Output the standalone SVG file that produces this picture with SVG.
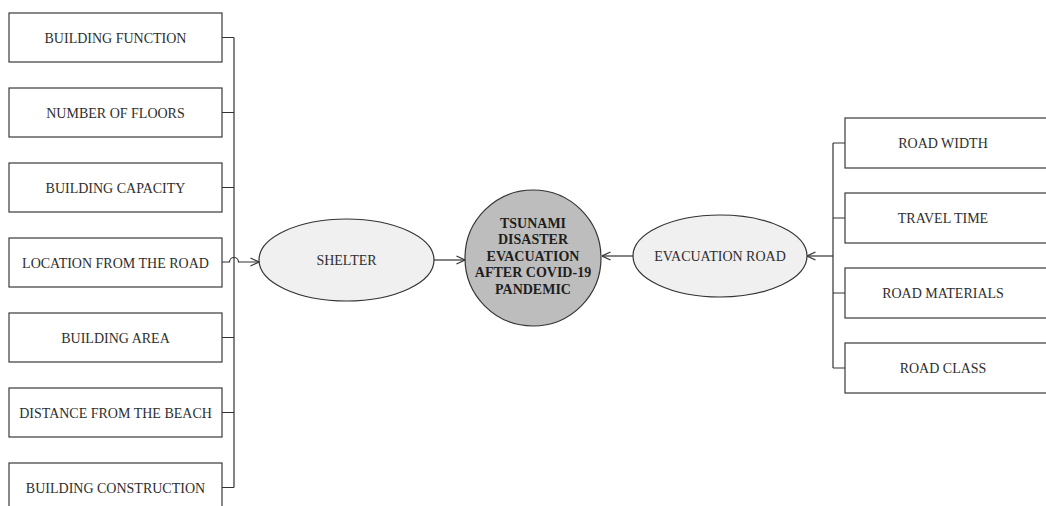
<svg xmlns="http://www.w3.org/2000/svg" width="1046" height="506" viewBox="0 0 1046 506">
<style>
.box{fill:#fff;stroke:#3a3a3a;stroke-width:1.2}
.lbl{font-family:"Liberation Serif","Times New Roman",serif;font-size:14px;fill:#2e2e2e;text-anchor:middle}
.ell{fill:#f0f0f0;stroke:#333;stroke-width:1.2}
.con{fill:none;stroke:#333;stroke-width:1.2}
.bold{font-family:"Liberation Serif","Times New Roman",serif;font-size:14px;font-weight:bold;fill:#1e1e1e;text-anchor:middle}
</style>
<defs>
<marker id="arr" viewBox="0 0 10 10" refX="9.5" refY="5" markerWidth="10" markerHeight="10" markerUnits="userSpaceOnUse" orient="auto">
<polyline points="1,1 9.5,5 1,9" fill="none" stroke="#333" stroke-width="1.2"/>
</marker>
</defs>
<rect width="1046" height="506" fill="#fff"/>
<g id="connectors">
<path class="con" d="M222,37.5 H234 M222,112.5 H234 M222,187.5 H234 M222,337.5 H234 M222,412.5 H234 M222,487.5 H234 M234,37.5 V487.5"/>
<path class="con" d="M222,262 H229.5 A4.5,4.5 0 0 1 238.5,262 H259" marker-end="url(#arr)"/>
<path class="con" d="M434,260 H465" marker-end="url(#arr)"/>
<path class="con" d="M633,256 H602" marker-end="url(#arr)"/>
<path class="con" d="M833,143 V368 M833,143 H845 M833,218 H845 M833,293 H845 M833,368 H845"/>
<path class="con" d="M833,256 H807" marker-end="url(#arr)"/>
</g>
<g id="n-building-function"><rect class="box" x="9" y="13" width="213" height="49"/><text class="lbl" x="115.5" y="42.5">BUILDING FUNCTION</text></g>
<g id="n-number-of-floors"><rect class="box" x="9" y="88" width="213" height="49"/><text class="lbl" x="115.5" y="117.5">NUMBER OF FLOORS</text></g>
<g id="n-building-capacity"><rect class="box" x="9" y="163" width="213" height="49"/><text class="lbl" x="115.5" y="192.5">BUILDING CAPACITY</text></g>
<g id="n-location-from-road"><rect class="box" x="9" y="238" width="213" height="49"/><text class="lbl" x="115.5" y="267.5">LOCATION FROM THE ROAD</text></g>
<g id="n-building-area"><rect class="box" x="9" y="313" width="213" height="49"/><text class="lbl" x="115.5" y="342.5">BUILDING AREA</text></g>
<g id="n-distance-from-beach"><rect class="box" x="9" y="388" width="213" height="49"/><text class="lbl" x="115.5" y="417.5">DISTANCE FROM THE BEACH</text></g>
<g id="n-building-construction"><rect class="box" x="9" y="463" width="213" height="49"/><text class="lbl" x="115.5" y="492.5">BUILDING CONSTRUCTION</text></g>
<g id="n-shelter"><ellipse class="ell" cx="346.5" cy="260" rx="87.5" ry="41"/><text class="lbl" x="346.5" y="265">SHELTER</text></g>
<g id="n-center"><circle cx="533" cy="258" r="68" fill="#bdbdbd" stroke="#333" stroke-width="1.2"/>
<text class="bold" x="533" y="227.5">TSUNAMI</text>
<text class="bold" x="533" y="244">DISASTER</text>
<text class="bold" x="533" y="260.5">EVACUATION</text>
<text class="bold" x="533" y="277">AFTER COVID-19</text>
<text class="bold" x="533" y="293.5">PANDEMIC</text></g>
<g id="n-evacuation-road"><ellipse class="ell" cx="720" cy="256" rx="87" ry="41"/><text class="lbl" x="720" y="261">EVACUATION ROAD</text></g>
<g id="n-road-width"><rect class="box" x="845" y="118" width="210" height="50"/><text class="lbl" x="943" y="148">ROAD WIDTH</text></g>
<g id="n-travel-time"><rect class="box" x="845" y="193" width="210" height="50"/><text class="lbl" x="943" y="223">TRAVEL TIME</text></g>
<g id="n-road-materials"><rect class="box" x="845" y="268" width="210" height="50"/><text class="lbl" x="943" y="298">ROAD MATERIALS</text></g>
<g id="n-road-class"><rect class="box" x="845" y="343" width="210" height="50"/><text class="lbl" x="943" y="373">ROAD CLASS</text></g>
</svg>
